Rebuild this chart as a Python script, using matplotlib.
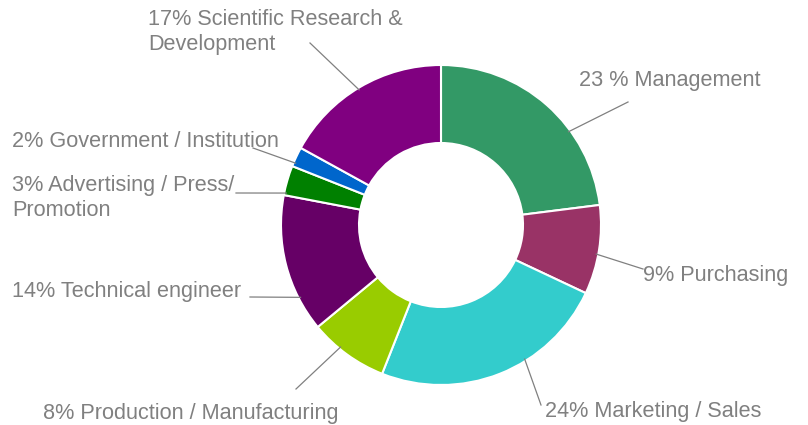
import numpy as np
import matplotlib
matplotlib.use("Agg")
from matplotlib import pyplot as plt

# data
labels = ["23 % Management", "9% Purchasing", "24% Marketing / Sales",
          "8% Production / Manufacturing", "14% Technical engineer",
          "3% Advertising / Press/\nPromotion", "2% Government / Institution",
          "17% Scientific Research &\nDevelopment"]
shares = [23, 9, 24, 8, 14, 3, 2, 17]
colors = ["#339966", "#993366", "#33CCCC", "#99CC00", "#660066",
          "#008000", "#0066CC", "#800080"]

W, H = 808, 425
cx, cy = 441, H - 225
R, ring = 160, 78

# label layout in pixels (x, y of text), where the leader line ends,
# and where along each wedge (0..1, clockwise) the leader starts
text_pos = [(579, 80), (643, 276), (545, 411), (43, 413), (12, 292),
            (12, 198), (12, 141), (148, 32)]
line_end = [(628, 102), (643, 269), (541, 405), (296, 389), (250, 297),
            (236, 193), (253, 148), (310, 43)]
line_frac = [0.65, 0.55, 0.38, 0.62, 0.245, 0.08, 0.2, 0.49]

fig = plt.figure(figsize=(W / 100, H / 100), dpi=100)
ax = fig.add_axes([0, 0, 1, 1])

wedges, _ = ax.pie(shares, colors=colors, radius=R, center=(cx, cy),
                   startangle=90, counterclock=False, frame=True,
                   wedgeprops=dict(width=ring, edgecolor="white", linewidth=1.5))
ax.set_xlim(0, W)
ax.set_ylim(0, H)
ax.set_aspect("equal")
ax.axis("off")

for w, lab, (tx, ty), (ex, ey), f in zip(wedges, labels, text_pos,
                                         line_end, line_frac):
    # wedges run clockwise, so theta2 is where each one starts
    ang = np.radians(w.theta2 - f * (w.theta2 - w.theta1))
    sx = cx + (R - 2) * np.cos(ang)
    sy = cy + (R - 2) * np.sin(ang)
    ax.plot([sx, ex], [sy, H - ey], color="#808080", lw=0.9)
    ax.text(tx, H - ty, lab, ha="left", va="center", fontsize=15.6,
            family="Liberation Sans", color="#808080", linespacing=1.24)

fig.savefig("out.png", dpi=100, facecolor="white")
